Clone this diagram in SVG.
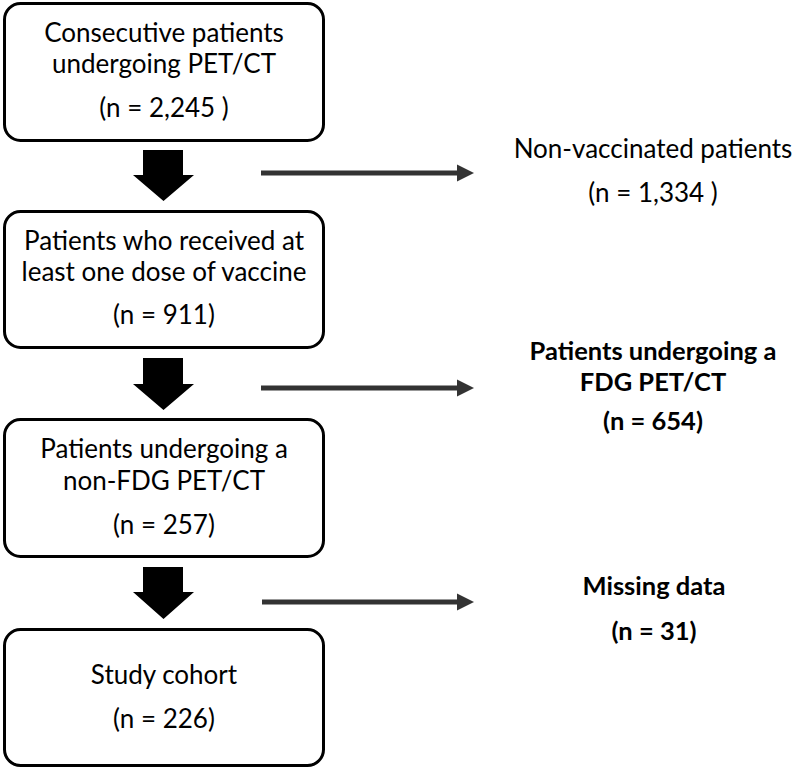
<svg xmlns="http://www.w3.org/2000/svg" width="800" height="772" viewBox="0 0 800 772">
<style>
.box{fill:#fff;stroke:#000;stroke-width:3}
.t{font-family:Lato,"Liberation Sans",sans-serif;font-size:26px;fill:#000;text-anchor:middle}
.b{font-weight:bold;font-size:25.5px}
.thick{fill:#000}
.thin{stroke:#333;stroke-width:5;fill:none}
.head{fill:#333}
</style>
<rect width="800" height="772" fill="#fff"/>
<g id="connectors">
<polygon class="thick" points="143,150 183,150 183,175 194,175 163.5,201 133,175 143,175"/>
<polygon class="thick" points="143,358 183,358 183,384 194,384 163.5,410 133,384 143,384"/>
<polygon class="thick" points="143,567 183,567 183,592 194,592 163.5,619 133,592 143,592"/>
<line class="thin" x1="261" y1="173" x2="458" y2="173"/>
<polygon class="head" points="457,164.5 474,173 457,181.5"/>
<line class="thin" x1="261" y1="388" x2="458" y2="388"/>
<polygon class="head" points="457,379.5 474,388 457,396.5"/>
<line class="thin" x1="262" y1="602" x2="458" y2="602"/>
<polygon class="head" points="457,593.5 474,602 457,610.5"/>
</g>
<g id="n1">
<rect class="box" x="4.5" y="3.5" width="319" height="137" rx="16"/>
<text class="t" x="164" y="42">Consecutive patients</text>
<text class="t" x="164" y="73">undergoing PET/CT</text>
<text class="t" x="164" y="117">(n = 2,245 )</text>
</g>
<g id="n2">
<rect class="box" x="4.5" y="211.5" width="319" height="136" rx="16"/>
<text class="t" x="164" y="250">Patients who received at</text>
<text class="t" x="164" y="281">least one dose of vaccine</text>
<text class="t" x="164" y="324">(n = 911)</text>
</g>
<g id="n3">
<rect class="box" x="4.5" y="419.5" width="319" height="137" rx="16"/>
<text class="t" x="164" y="458">Patients undergoing a</text>
<text class="t" x="164" y="490">non-FDG PET/CT</text>
<text class="t" x="164" y="534">(n = 257)</text>
</g>
<g id="n4">
<rect class="box" x="4.5" y="629.5" width="319" height="136" rx="16"/>
<text class="t" x="164" y="684">Study cohort</text>
<text class="t" x="164" y="728">(n = 226)</text>
</g>
<g id="e1">
<text class="t" x="653" y="158">Non-vaccinated patients</text>
<text class="t" x="653" y="202">(n = 1,334 )</text>
</g>
<g id="e2">
<text class="t b" x="653" y="360">Patients undergoing a</text>
<text class="t b" x="653" y="391">FDG PET/CT</text>
<text class="t b" x="653" y="430">(n = 654)</text>
</g>
<g id="e3">
<text class="t b" x="654" y="595">Missing data</text>
<text class="t b" x="654" y="640">(n = 31)</text>
</g>
</svg>
